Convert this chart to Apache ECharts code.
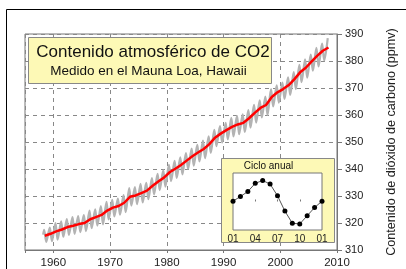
<!DOCTYPE html>
<html>
<head>
<meta charset="utf-8">
<script src="https://cdn.jsdelivr.net/npm/echarts@6/dist/echarts.min.js"></script>
<style>
  html, body { margin: 0; padding: 0; background: #fff; }
  #chart { width: 406px; height: 269px; }
</style>
</head>
<body>
<div id="chart"></div>
<script>
// Mauna Loa CO2 (ppmv)
const years = [
  1958, 1959, 1960, 1961, 1962, 1963, 1964, 1965, 1966, 1967,
  1968, 1969, 1970, 1971, 1972, 1973, 1974, 1975, 1976, 1977,
  1978, 1979, 1980, 1981, 1982, 1983, 1984, 1985, 1986, 1987,
  1988, 1989, 1990, 1991, 1992, 1993, 1994, 1995, 1996, 1997,
  1998, 1999, 2000, 2001, 2002, 2003, 2004, 2005, 2006, 2007, 2008
];
// red trend line (yearly mean)
const annualMean = [
  315.3, 316.0, 316.9, 317.6, 318.5, 319.0, 319.6, 320.0, 321.4, 322.2,
  323.0, 324.6, 325.7, 326.3, 327.5, 329.7, 330.2, 331.1, 332.0, 333.8,
  335.4, 336.8, 338.8, 340.1, 341.5, 343.1, 344.7, 346.1, 347.4, 349.2,
  351.6, 353.1, 354.4, 355.6, 356.5, 357.1, 358.8, 360.8, 362.6, 363.7,
  366.7, 368.4, 369.6, 371.1, 373.3, 375.8, 377.5, 379.8, 381.9, 383.8, 385.0
];
// grey monthly record: May maximum and autumn minimum of each year
const peakValues = [
  317.5, 318.3, 320.0, 320.6, 321.4, 322.2, 322.6, 322.9, 324.6, 325.1,
  326.3, 327.8, 328.6, 329.0, 330.3, 332.9, 333.3, 334.5, 334.9, 336.6,
  338.2, 339.5, 341.5, 343.0, 344.3, 345.9, 347.6, 348.9, 350.5, 352.1,
  354.5, 355.9, 357.1, 358.9, 359.7, 360.2, 361.8, 363.8, 365.4, 366.8,
  369.6, 371.0, 372.0, 373.9, 375.9, 378.6, 380.6, 382.4, 384.9, 386.4, 388.5
];
const troughValues = [
  313.0, 313.3, 313.8, 314.9, 315.6, 316.0, 316.6, 317.0, 318.1, 319.0,
  319.5, 321.3, 322.4, 323.1, 324.0, 326.4, 327.0, 327.6, 328.8, 330.6,
  332.2, 333.5, 335.5, 336.7, 338.0, 340.0, 341.2, 342.8, 344.0, 346.0,
  348.5, 349.8, 351.0, 352.1, 352.9, 353.7, 355.3, 357.2, 359.1, 360.0,
  363.2, 364.6, 366.0, 367.4, 369.6, 372.2, 373.8, 376.4, 378.0, 380.2
];
const firstReading = [1958.2, 315.7];
const peakFraction = 0.37;   // mid May
const troughFraction = 0.75; // end of September

// inset: annual cycle (deviation from trend, ppmv)
const cycleMonths = ['01', '02', '03', '04', '05', '06', '07', '08', '09', '10', '11', '12', '01'];
const cycleValues = [0.05, 0.7, 1.4, 2.55, 2.95, 2.45, 0.8, -1.35, -3.05, -3.15, -2.0, -0.85, 0.05];

const FONT = '"Liberation Sans", Arial, sans-serif';

const monthly = [firstReading];
years.forEach((y, i) => {
  monthly.push([y + peakFraction, peakValues[i]]);
  if (i < troughValues.length) monthly.push([y + troughFraction, troughValues[i]]);
});
const trend = years.map((y, i) => [y + 0.5, annualMean[i]]);

const chart = echarts.init(document.getElementById('chart'), null, { renderer: 'canvas' });

chart.setOption({
  animation: false,
  textStyle: { fontFamily: FONT },
  grid: [
    {
      left: 25, right: 66, top: 34, bottom: 19,
      show: true, borderColor: '#777', borderWidth: 1, backgroundColor: 'transparent'
    },
    {
      left: 233, top: 173, width: 89, height: 57,
      show: true, borderColor: '#777', borderWidth: 1, backgroundColor: '#fff', z: 8
    }
  ],
  xAxis: [
    {
      type: 'value', gridIndex: 0, min: 1955, max: 2010,
      axisLine: { show: true, lineStyle: { color: '#777' } },
      axisTick: { show: true, length: 3, lineStyle: { color: '#777' } },
      axisLabel: {
        color: '#222', fontSize: 11.5, margin: 7, fontFamily: FONT,
        formatter: v => (v % 10 === 0 ? String(v) : '')
      },
      splitLine: { show: true, lineStyle: { color: '#888', type: [4, 4], width: 1 } }
    },
    {
      type: 'category', gridIndex: 1, data: cycleMonths, boundaryGap: false, z: 9,
      axisLine: { show: false },
      axisTick: { show: true, inside: true, length: 2, interval: 2, lineStyle: { color: '#777' } },
      axisLabel: { color: '#222', fontSize: 10, margin: 4, interval: 2, fontFamily: FONT },
      splitLine: { show: false }
    }
  ],
  yAxis: [
    {
      type: 'value', gridIndex: 0, position: 'right', min: 310, max: 390, interval: 10,
      name: 'Contenido de dióxido de carbono (ppmv)',
      nameLocation: 'middle', nameRotate: 90, nameGap: 48,
      nameTextStyle: { color: '#222', fontSize: 12.6, fontFamily: FONT },
      axisLine: { show: true, lineStyle: { color: '#777' } },
      axisTick: { show: true, length: 5, lineStyle: { color: '#777' } },
      axisLabel: { color: '#222', fontSize: 11, margin: 8, fontFamily: FONT },
      splitLine: { show: true, lineStyle: { color: '#888', type: [4, 4], width: 1 } }
    },
    {
      type: 'value', gridIndex: 1, min: -4, max: 4, z: 9,
      axisLine: { show: false }, axisTick: { show: false },
      axisLabel: { show: false }, splitLine: { show: false }
    }
  ],
  graphic: [
    {
      type: 'rect', z: 5, silent: true,
      shape: { x: 6.5, y: 9.5, width: 420, height: 280 },
      style: { fill: null, stroke: '#000', lineWidth: 1 }
    },
    {
      type: 'rect', z: 5, silent: true,
      shape: { x: 28.5, y: 37.5, width: 243, height: 46 },
      style: { fill: '#fdf9b6', stroke: '#888', lineWidth: 1 }
    },
    {
      type: 'text', z: 6, silent: true, x: 153, y: 52,
      style: { text: 'Contenido atmosférico de CO2', fill: '#111', font: '17px ' + FONT, align: 'center', verticalAlign: 'middle' }
    },
    {
      type: 'text', z: 6, silent: true, x: 148.5, y: 71.5,
      style: { text: 'Medido en el Mauna Loa, Hawaii', fill: '#111', font: '13.5px ' + FONT, align: 'center', verticalAlign: 'middle' }
    },
    {
      type: 'rect', z: 5, silent: true,
      shape: { x: 221.5, y: 158.5, width: 113, height: 84 },
      style: { fill: '#fdf9b6', stroke: '#888', lineWidth: 1 }
    },
    {
      type: 'text', z: 6, silent: true, x: 268.5, y: 166,
      style: { text: 'Ciclo anual', fill: '#111', font: '10px ' + FONT, align: 'center', verticalAlign: 'middle' }
    }
  ],
  series: [
    {
      name: 'mensual', type: 'line', xAxisIndex: 0, yAxisIndex: 0,
      data: monthly, showSymbol: false, smooth: 0.3,
      lineStyle: { color: '#b3b3b3', width: 2.2 }, z: 2
    },
    {
      name: 'tendencia', type: 'line', xAxisIndex: 0, yAxisIndex: 0,
      data: trend, showSymbol: false,
      lineStyle: { color: '#ff0000', width: 2.5 }, z: 3
    },
    {
      name: 'ciclo', type: 'line', xAxisIndex: 1, yAxisIndex: 1,
      data: cycleValues, symbol: 'circle', symbolSize: 5, showAllSymbol: true,
      itemStyle: { color: '#000' },
      lineStyle: { color: '#555', width: 1 }, z: 10
    }
  ]
});
</script>
</body>
</html>
